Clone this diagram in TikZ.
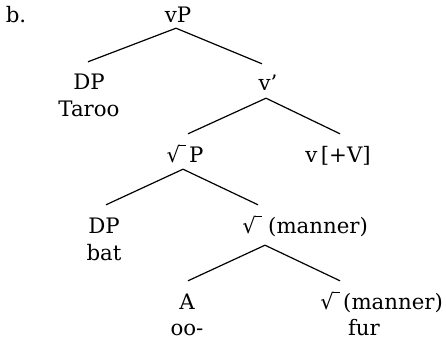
\documentclass[tikz,border=0pt]{standalone}
\usepackage{fontspec}
\setmainfont{DejaVu Serif}
\newcommand{\rootsym}{√\kern-0.04em\rule[\dimexpr\fontcharht\font"221A-0.06em\relax]{0.3em}{0.06em}}
\begin{document}
\begin{tikzpicture}[x=1pt,y=-1pt,
  every node/.style={font=\fontsize{21.3}{26}\selectfont, inner sep=0pt, anchor=base, text height=15pt, text depth=4pt},
  edge/.style={line width=1.2pt}]
\useasboundingbox (0,0) rectangle (446,339);
\node (lab) at (16,23) {b.};
\node (vP) at (178,23) {vP};
\node (dp1) at (89,90) {DP};
\node (taroo) at (89,117) {Taroo};
\node (vbar) at (268,91) {v’};
\node (rP) at (185,162) {\rootsym\,P};
\node (vV) at (338,162) {v\,[+V]};
\node (dp2) at (104,233) {DP};
\node (bat) at (104,260) {bat};
\node (r2) at (252,233) {\rootsym};
\node[anchor=base west] (m2) at (268,233) {(manner)};
\node (A) at (187,309) {A};
\node (oo) at (187,335) {oo-};
\node (r3) at (330,309) {\rootsym};
\node[anchor=base west] (m3) at (343,309) {(manner)};
\node (fur) at (364,335) {fur};
\draw[edge] ([xshift=-2pt,yshift=-1pt]vP.south) -- ([xshift=-1pt,yshift=13pt]dp1.north);
\draw[edge] ([xshift=-2pt,yshift=-1pt]vP.south) -- ([xshift=-6pt,yshift=12pt]vbar.north);
\draw[edge] ([xshift=-2pt,yshift=-3pt]vbar.south) -- ([xshift=3pt,yshift=13pt]rP.north);
\draw[edge] ([xshift=-2pt,yshift=-3pt]vbar.south) -- ([xshift=2pt,yshift=13pt]vV.north);
\draw[edge] ([xshift=-2pt,yshift=-3pt]rP.south) -- ([xshift=2pt,yshift=13pt]dp2.north);
\draw[edge] ([xshift=-2pt,yshift=-3pt]rP.south) -- ([xshift=6pt,yshift=13pt]r2.north);
\draw[edge] ([xshift=13pt,yshift=-8pt]r2.south) -- ([xshift=1pt,yshift=13pt]A.north);
\draw[edge] ([xshift=13pt,yshift=-8pt]r2.south) -- ([xshift=10pt,yshift=13pt]r3.north);
\end{tikzpicture}
\end{document}
